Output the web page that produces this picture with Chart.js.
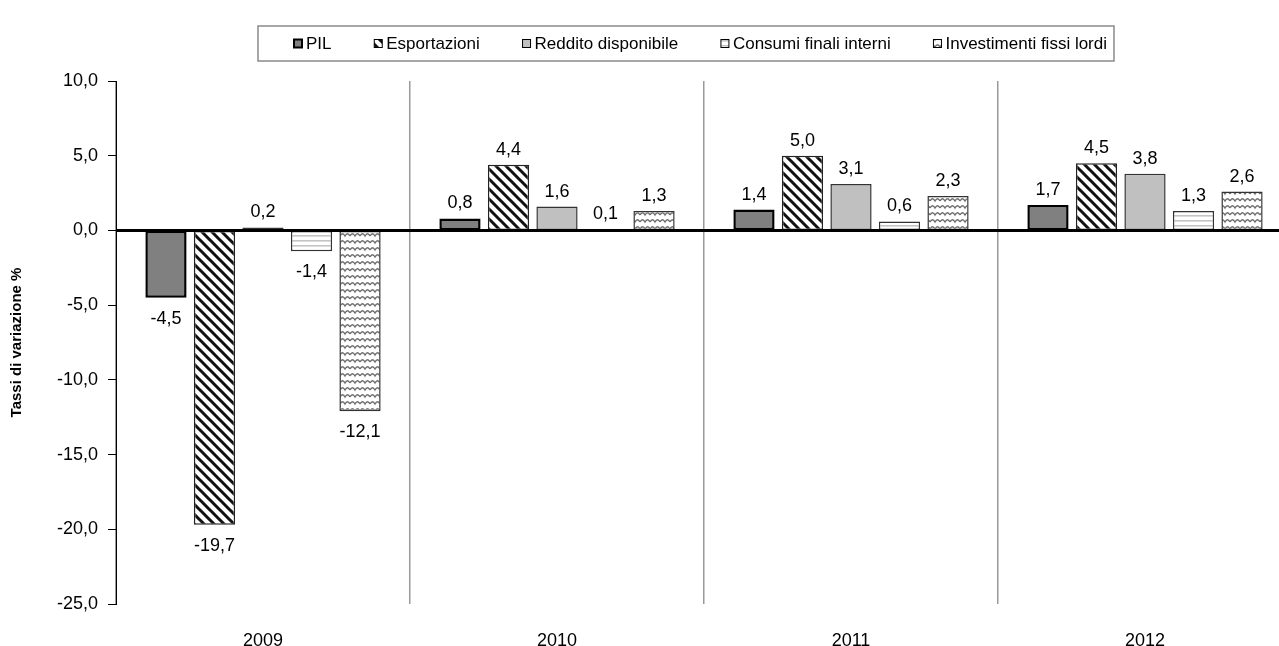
<!DOCTYPE html>
<html>
<head>
<meta charset="utf-8">
<script src="https://cdn.jsdelivr.net/npm/chart.js@4.4.1/dist/chart.umd.min.js"></script>
<style>
  html, body { margin: 0; padding: 0; background: #fff; overflow: hidden; }
  #wrap { width: 1279px; height: 646px; overflow: hidden; }
</style>
</head>
<body>
<div id="wrap"><canvas id="chart" width="1300" height="646"></canvas></div>
<script>
const years = ['2009', '2010', '2011', '2012'];
const seriesNames = ['PIL', 'Esportazioni', 'Reddito disponibile', 'Consumi finali interni', 'Investimenti fissi lordi'];
const pil = [-4.5, 0.8, 1.4, 1.7];
const esportazioni = [-19.7, 4.4, 5.0, 4.5];
const reddito = [0.2, 1.6, 3.1, 3.8];
const consumi = [-1.4, 0.1, 0.6, 1.3];
const investimenti = [-12.1, 1.3, 2.3, 2.6];
const yTicks = [10, 5, 0, -5, -10, -15, -20, -25];

const FONT = '"Liberation Sans", Arial, sans-serif';
const fmt = v => v.toFixed(1).replace('.', ',');

function makePattern(w, h, draw) {
  const c = document.createElement('canvas');
  c.width = w; c.height = h;
  const g = c.getContext('2d');
  g.fillStyle = '#fff';
  g.fillRect(0, 0, w, h);
  draw(g, w, h);
  return g.createPattern(c, 'repeat');
}

// diagonal black stripes "\"
const stripes = makePattern(10, 10, (g) => {
  g.strokeStyle = '#111'; g.lineWidth = 3;
  g.beginPath();
  g.moveTo(-5, -5); g.lineTo(15, 15);
  g.moveTo(-5, 5); g.lineTo(5, 15);
  g.moveTo(5, -5); g.lineTo(15, 5);
  g.stroke();
});
// light horizontal lines
const hlines = makePattern(4, 5, (g) => {
  g.fillStyle = '#c4c4c4';
  g.fillRect(0, 0, 4, 1.6);
});
// wavy gray pattern
const waves = makePattern(10, 7, (g) => {
  g.strokeStyle = '#6e6e6e'; g.lineWidth = 1.4;
  g.beginPath();
  g.moveTo(0, 5); g.quadraticCurveTo(2.5, 0.5, 5, 5); g.quadraticCurveTo(7.5, 0.5, 10, 5);
  g.stroke();
});

const styles = [
  { bg: '#808080', border: '#000', bw: 2.5 },
  { bg: stripes, border: '#222', bw: 1.5 },
  { bg: '#c0c0c0', border: '#333', bw: 1.5 },
  { bg: hlines, border: '#333', bw: 1.5 },
  { bg: waves, border: '#333', bw: 1.5 }
];
const seriesData = [pil, esportazioni, reddito, consumi, investimenti];

const barOverlay = {
  id: 'barOverlay',
  afterDatasetsDraw(chart) {
    const { ctx, chartArea } = chart;
    const y0 = chart.scales.y.getPixelForValue(0);
    ctx.save();
    ctx.strokeStyle = '#000';
    ctx.lineWidth = 3;
    ctx.beginPath();
    ctx.moveTo(chartArea.left, y0);
    ctx.lineTo(chartArea.right, y0);
    ctx.stroke();

    ctx.font = '18px ' + FONT;
    ctx.fillStyle = '#000';
    ctx.textAlign = 'center';
    chart.data.datasets.forEach((ds, i) => {
      chart.getDatasetMeta(i).data.forEach((bar, j) => {
        const v = ds.data[j];
        if (v >= 0) {
          ctx.textBaseline = 'alphabetic';
          ctx.fillText(fmt(v), bar.x, bar.y - 10);
        } else {
          ctx.textBaseline = 'top';
          ctx.fillText(fmt(v), bar.x, bar.y + 12);
        }
      });
    });
    ctx.restore();
  }
};

const boxLegend = {
  id: 'boxLegend',
  afterDraw(chart) {
    const ctx = chart.ctx;
    const box = { left: 258, right: 1114, top: 26, bottom: 61 };
    const start = 294, end = 1107, mk = 8, gapText = 4;
    ctx.save();
    ctx.strokeStyle = '#8a8a8a';
    ctx.lineWidth = 1.5;
    ctx.strokeRect(box.left, box.top, box.right - box.left, box.bottom - box.top);
    ctx.font = '17px ' + FONT;
    ctx.textBaseline = 'middle';
    ctx.textAlign = 'left';
    const ds = chart.data.datasets;
    const widths = ds.map(d => mk + gapText + ctx.measureText(d.label).width);
    const total = widths.reduce((a, b) => a + b, 0);
    const gap = (end - start - total) / (ds.length - 1);
    const cy = (box.top + box.bottom) / 2;
    let x = start;
    ds.forEach((d, i) => {
      ctx.fillStyle = d.backgroundColor;
      ctx.fillRect(x, cy - mk / 2, mk, mk);
      ctx.strokeStyle = '#000';
      ctx.lineWidth = i === 0 ? 2 : 1;
      ctx.strokeRect(x, cy - mk / 2, mk, mk);
      ctx.fillStyle = '#000';
      ctx.fillText(d.label, x + mk + gapText, cy + 1);
      x += widths[i] + gap;
    });
    ctx.restore();
  }
};

new Chart(document.getElementById('chart'), {
  type: 'bar',
  data: {
    labels: years,
    datasets: seriesNames.map((name, i) => ({
      label: name,
      data: seriesData[i],
      backgroundColor: styles[i].bg,
      borderColor: styles[i].border,
      borderWidth: styles[i].bw,
      borderSkipped: false,
      categoryPercentage: 0.825,
      barPercentage: 0.85
    }))
  },
  options: {
    responsive: false,
    animation: false,
    devicePixelRatio: 1,
    layout: { padding: { top: 81, right: 8, left: 0, bottom: 0 } },
    plugins: { legend: { display: false }, tooltip: { enabled: false } },
    scales: {
      x: {
        offset: true,
        grid: { offset: true, color: '#9a9a9a', lineWidth: 1.5, drawTicks: false },
        border: { display: false },
        ticks: { font: { family: FONT, size: 18 }, color: '#000', padding: 26 },
        afterFit(s) { s.height = 42; }
      },
      y: {
        min: -25,
        max: 10,
        afterBuildTicks(s) { s.ticks = yTicks.map(v => ({ value: v })); },
        ticks: { callback: v => fmt(v), padding: 10, font: { family: FONT, size: 18 }, color: '#000' },
        grid: { drawOnChartArea: false, tickLength: 8, color: '#000' },
        border: { color: '#000', width: 1 },
        title: { display: true, text: 'Tassi di variazione %', color: '#000',
                 font: { family: FONT, size: 15, weight: 'bold' }, padding: { top: 8, bottom: 0 } },
        afterFit(s) { s.width = 116; }
      }
    }
  },
  plugins: [barOverlay, boxLegend]
});
</script>
</body>
</html>
